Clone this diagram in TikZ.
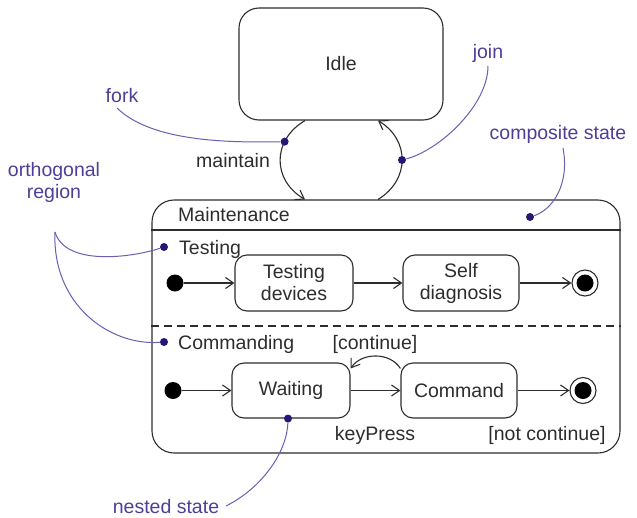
\documentclass[tikz,border=0pt]{standalone}
\usepackage{fontspec}
\setmainfont{Liberation Sans}
\usetikzlibrary{arrows.meta}
\definecolor{annot}{RGB}{80,62,150}
\definecolor{annline}{RGB}{108,94,178}
\definecolor{anndot}{RGB}{38,22,118}
\definecolor{ink}{RGB}{45,45,45}
\begin{document}
\begin{tikzpicture}[x=1pt,y=-1pt,
  font=\fontsize{19.5}{22}\selectfont,
  stbox/.style={draw=ink, line width=1.1pt, rounded corners=12pt, inner sep=0pt, align=center, text=ink},
  tr/.style={draw=ink, line width=1.1pt, -{Straight Barb[length=8pt,width=11pt]}},
  initdot/.style={circle, fill=black, inner sep=0pt, minimum size=17pt},
  finaldot/.style={circle, draw=ink, line width=1.1pt, fill=white, inner sep=0pt, minimum size=26pt,
     path picture={\fill[black] (path picture bounding box.center) circle (8.5pt);}},
  lbl/.style={text=ink, inner sep=0pt, anchor=base west},
  clbl/.style={text=ink, inner sep=0pt, anchor=base},
  annlbl/.style={text=annot, inner sep=0pt, anchor=base, align=center},
  ann/.style={draw=annline, line width=1pt},
  adot/.style={circle, fill=anndot, inner sep=0pt, minimum size=8pt}
]
\useasboundingbox[fill=white] (0,0) rectangle (637,517);

% states
\node[stbox, rounded corners=20pt, minimum width=204pt, minimum height=112pt] (idle) at (341,64) {Idle};
\node[stbox, rounded corners=22pt, minimum width=468pt, minimum height=253pt] (maint) at (386,326.5) {};
\draw[ink, line width=1.1pt] (maint.west |- 0,230) -- (maint.east |- 0,230);
\draw[ink, line width=1.1pt, dash pattern=on 8pt off 5pt] (maint.west |- 0,326) -- (maint.east |- 0,326);

\node[lbl] (mainttxt) at (178,221) {Maintenance};
\node[lbl] (testtxt) at (179,254) {Testing};
\node[lbl] (cmdtxt) at (178,349) {Commanding};

\node[stbox, minimum width=118pt, minimum height=56pt] (td) at (294,283) {Testing\\devices};
\node[stbox, minimum width=116pt, minimum height=56pt] (sd) at (461,283) {Self\\diagnosis};
\node[stbox, minimum width=118pt, minimum height=55pt] (wt) at (291,390.5) {Waiting};
\node[stbox, minimum width=116pt, minimum height=55pt] (cm) at (459,390.5) {Command};

\node[initdot] (i1) at (175,283) {};
\node[initdot] (i2) at (173,390.5) {};
\node[finaldot] (f1) at (585,283) {};
\node[finaldot] (f2) at (583,390.5) {};

% transitions
\draw[tr] (i1) -- (td);
\draw[tr] (td) -- (sd);
\draw[tr] (sd) -- (f1);
\draw[tr] (i2) -- (wt);
\draw[tr] (wt) -- (cm);
\draw[tr] (cm) -- (f2);
\draw[tr] ([yshift=-6pt]cm.north west) .. controls (390,352) and (362,352) .. ([yshift=-6pt]wt.north east);
\node[clbl] (conttxt) at (375,349) {[continue]};
\node[clbl] (keytxt) at (375,440) {keyPress};
\node[clbl] (ncont) at (547,440) {[not continue]};

\draw[tr] ([xshift=-36pt]idle.south) .. controls (272,140) and (272,180) .. node[pos=0.29, adot] (forkdot) {} ([xshift=-81pt]maint.north);
\draw[tr] ([xshift=-8pt]maint.north) .. controls (410,180) and (410,140) .. node[pos=0.5, adot] (joindot) {} ([xshift=37pt]idle.south);
\node[lbl] (maintain) at (196,167) {maintain};

% annotations
\node[annlbl] (fork) at (122,102) {fork};
\node[annlbl] (join) at (488,58) {join};
\node[annlbl] (comp) at (558,139) {composite state};
\node[annlbl] (orth) at (54,198) {orthogonal\\region};
\node[annlbl] (nested) at (166,513) {nested state};

\node[adot] (compdot) at (530,217) {};
\node[adot] (testdot) at (164,247) {};
\node[adot] (cmddot) at (164,342) {};
\node[adot] (nestdot) at ([xshift=-3pt]wt.south) {};

\coordinate (forkend) at (117,108);
\coordinate (joinend) at (488,66);
\coordinate (compend) at (563,148);
\coordinate (orthend) at (55,232);
\coordinate (nestend) at (226,506);

\draw[ann] (forkend) .. controls (150,140) and (220,143) .. (forkdot);
\draw[ann] (joinend) .. controls (488,105) and (440,150) .. (joindot);
\draw[ann] (compend) .. controls (570,185) and (552,210) .. (compdot);
\draw[ann] (orthend) .. controls (65,266) and (130,258) .. (testdot);
\draw[ann] (orthend) .. controls (52,305) and (110,346) .. (cmddot);
\draw[ann] (nestend) .. controls (262,488) and (287,452) .. (nestdot);
\end{tikzpicture}
\end{document}
